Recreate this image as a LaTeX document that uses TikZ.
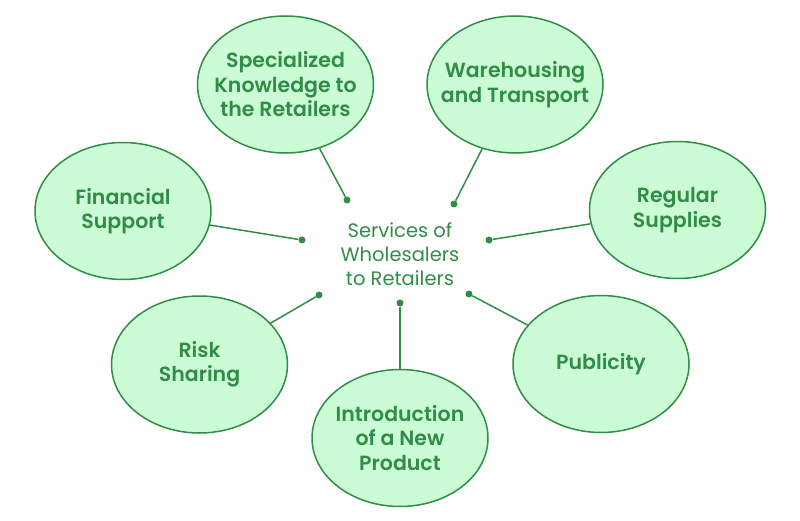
\documentclass[tikz,border=0pt]{standalone}
\usepackage{fontspec}
\setmainfont{Poppins}[BoldFont={Poppins SemiBold}]
\usepackage{tikz}
\usetikzlibrary{shapes.geometric}
\definecolor{gfg}{HTML}{2F8D46}
\definecolor{mint}{HTML}{CCFCD6}

\begin{document}
\begin{tikzpicture}[x=1pt,y=-1pt,
    bubble/.style={ellipse,draw=gfg,fill=mint,line width=1.5pt,minimum width=176pt,minimum height=137pt,inner sep=-16pt,align=center,text=gfg,font=\fontsize{20.5}{24.5}\selectfont\bfseries},
    joint/.style={circle,fill=gfg,inner sep=0pt,minimum size=7pt},
    link/.style={draw=gfg,line width=1.5pt}]
    \useasboundingbox (0,0) rectangle (800,521);
    \node[align=center,text=gfg,font=\fontsize{19.5}{24}\selectfont] (hub) at (400,254) {Services of\\Wholesalers\\to Retailers};
    % outer bubbles
    \node[bubble] (know) at (285.5,84.5) {Specialized\\Knowledge to\\the Retailers};
    \node[bubble] (ware) at (515,84.5) {Warehousing\\and Transport};
    \node[bubble] (fin) at (123,211) {Financial\\Support};
    \node[bubble] (reg) at (677.5,210) {Regular\\Supplies};
    \node[bubble] (risk) at (199.5,364.5) {Risk\\Sharing};
    \node[bubble] (intro) at (400,438) {Introduction\\of a New\\Product};
    \node[bubble] (pub) at (601,364) {Publicity};
    % dots round the hub
    \node[joint] (knowdot) at (347,200) {};
    \node[joint] (waredot) at (454,204) {};
    \node[joint] (findot) at (302,240) {};
    \node[joint] (regdot) at (489,240) {};
    \node[joint] (riskdot) at (319,295) {};
    \node[joint] (introdot) at (400,303) {};
    \node[joint] (pubdot) at (469,294) {};
    \draw[link] (know) -- (knowdot);
    \draw[link] (ware) -- (waredot);
    \draw[link] (fin) -- (findot);
    \draw[link] (reg) -- (regdot);
    \draw[link] (risk) -- (riskdot);
    \draw[link] (intro) -- (introdot);
    \draw[link] (pub) -- (pubdot);
\end{tikzpicture}
\end{document}
